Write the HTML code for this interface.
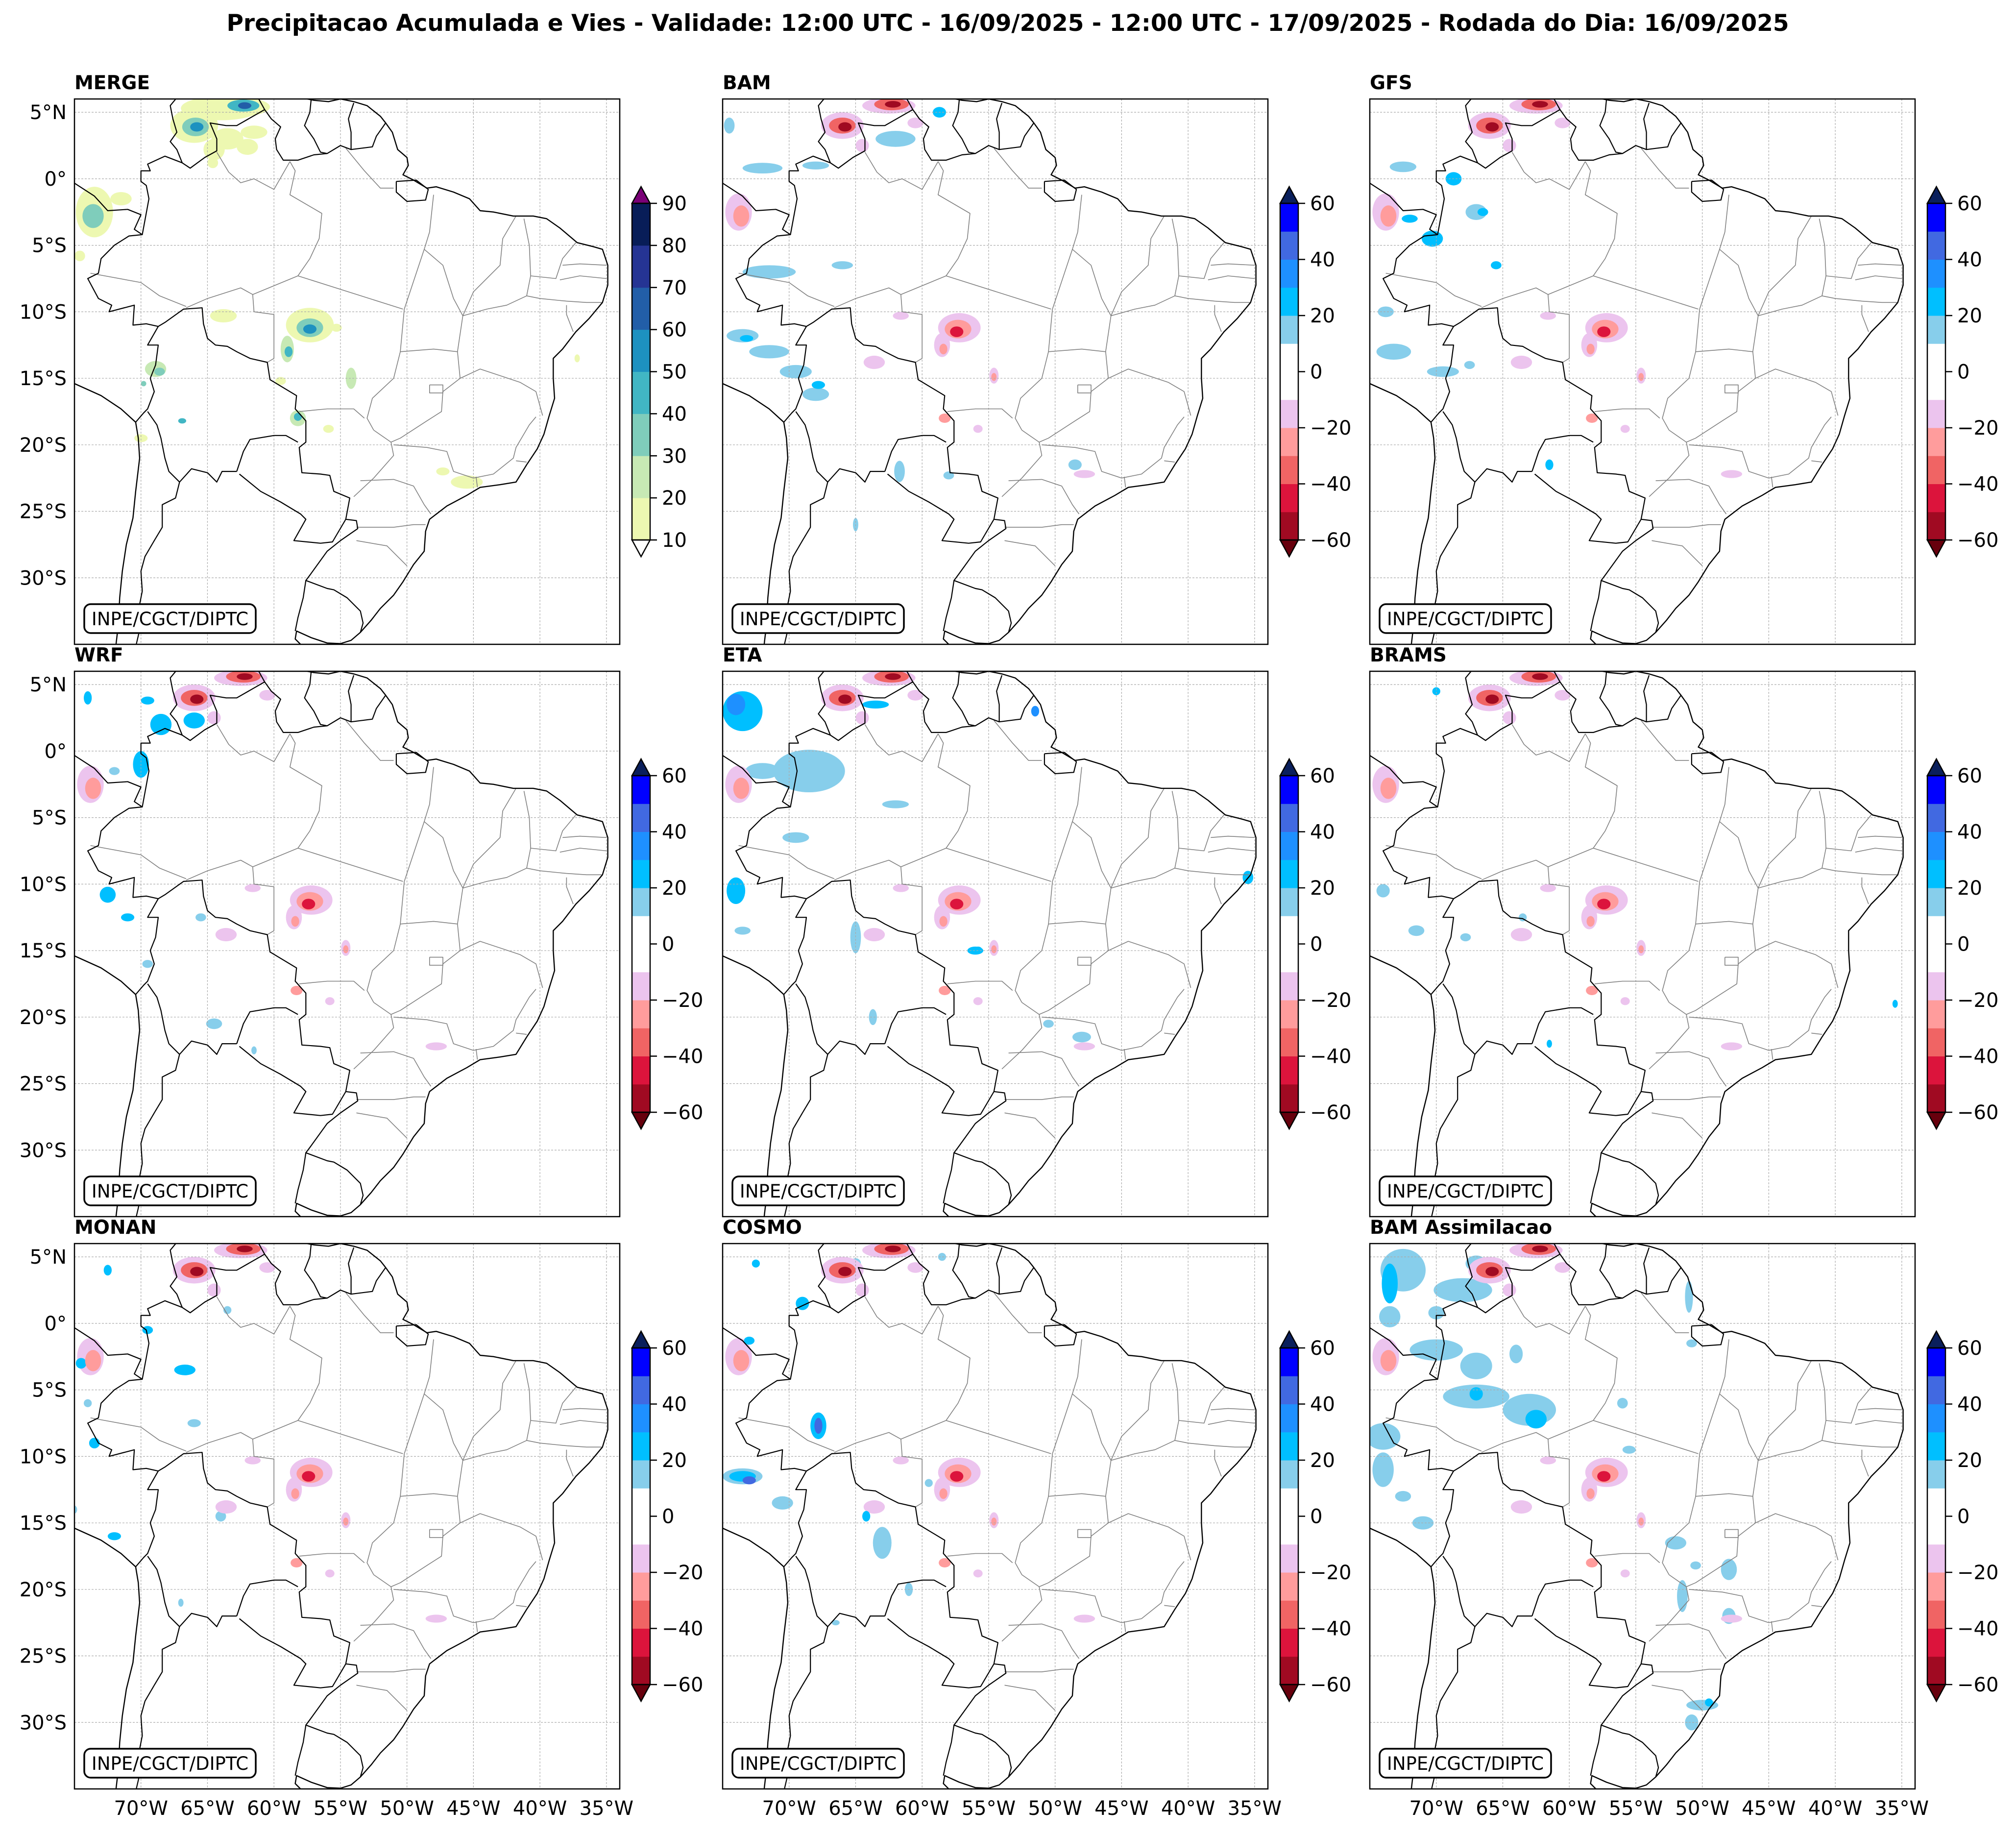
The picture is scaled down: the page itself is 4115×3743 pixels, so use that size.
<!DOCTYPE html>
<html><head><meta charset="utf-8">
<style>
html,body{margin:0;padding:0;background:#fff;}
svg{display:block;font-family:"DejaVu Sans","Liberation Sans",sans-serif;}
</style></head>
<body>
<svg id="fig" width="4115" height="3743" viewBox="0 0 4115 3743" xmlns="http://www.w3.org/2000/svg">
<rect x="0" y="0" width="4115" height="3743" fill="#fff"/>
<text x="2057" y="63" text-anchor="middle" font-size="47" font-weight="bold">Precipitacao Acumulada e Vies - Validade: 12:00 UTC - 16/09/2025 - 12:00 UTC - 17/09/2025 - Rodada do Dia: 16/09/2025</text>
<g id="panels"></g>
</svg>
<script>
// ---------- data ----------
const panelTitles = ["MERGE","BAM","GFS","WRF","ETA","BRAMS","MONAN","COSMO","BAM Assimilacao"];
const latTicks = [5,0,-5,-10,-15,-20,-25,-30];
const lonTicks = [-70,-65,-60,-55,-50,-45,-40,-35];
const mergeTicks = [10,20,30,40,50,60,70,80,90];
const biasTicks = [60,40,20,0,-20,-40,-60];
const mergeLevels = [10,20,30,40,50,60,70,80,90];
const mergeColors = ["#edf8b1","#c7e9b4","#7fcdbb","#41b6c4","#1d91c0","#225ea8","#253494","#081d58"];
const biasLevels = [-60,-50,-40,-30,-20,-10,0,10,20,30,40,50,60];
const biasColors = ["#a00a22","#dc143c","#f06464","#ff9c9c","#ecc4ee","#ffffff","#ffffff","#87ceeb","#00bfff","#1e90ff","#4169e1","#0000ff"];

// blobs: [lon, lat, rxDeg, ryDeg, value]
const mergeBlobs = [
[-64,5.3,3.0,0.9,15],[-63.5,3.0,1.2,0.8,15],[-62,2.4,0.8,0.6,15],
[-66,4,1.8,1.3,15],[-65.9,3.9,1.0,0.7,35],[-65.8,3.9,0.5,0.35,55],
[-62.5,5.4,2.2,0.7,15],[-62.3,5.5,1.2,0.45,40],[-62.2,5.5,0.5,0.25,60],
[-64.5,2.2,0.8,0.8,15],[-61.5,3.5,1.0,0.5,15],[-64.6,1.2,0.4,0.4,15],
[-73.5,-2.5,1.4,1.9,15],[-73.6,-2.8,0.8,0.9,35],[-74.6,-5.8,0.4,0.4,15],[-71.5,-1.5,0.8,0.5,15],
[-57.3,-11,1.8,1.3,15],[-57.3,-11.2,1.0,0.7,35],[-57.3,-11.3,0.5,0.35,55],[-55.3,-11.2,0.4,0.3,15],
[-59,-12.8,0.5,1.0,20],[-58.9,-13,0.3,0.4,45],[-63.8,-10.3,1.0,0.5,15],
[-68.9,-14.3,0.8,0.6,20],[-68.6,-14.5,0.4,0.3,30],[-69.8,-15.4,0.2,0.2,30],
[-58.2,-18,0.6,0.6,20],[-58.2,-17.9,0.3,0.3,45],[-55.9,-18.8,0.4,0.3,15],[-59.5,-15.2,0.4,0.3,15],
[-54.2,-15,0.4,0.8,20],[-66.9,-18.2,0.3,0.2,45],[-70,-19.5,0.5,0.3,15],
[-45.5,-22.8,1.2,0.5,15],[-47.3,-22,0.5,0.3,15],[-37.2,-13.5,0.2,0.3,15]
];
const commonNeg = [
[-66,4,1.6,1.0,-15],[-66,4,1.0,0.6,-35],[-65.8,3.9,0.5,0.35,-55],
[-62.5,5.5,2.0,0.6,-15],[-62.3,5.6,1.3,0.45,-35],[-62.2,5.6,0.6,0.25,-55],
[-64.5,2.5,0.5,0.5,-15],[-60.5,4.2,0.6,0.4,-15],
[-73.8,-2.5,1.0,1.4,-15],[-73.6,-2.8,0.6,0.8,-30],
[-57.2,-11.2,1.6,1.1,-15],[-57.3,-11.3,1.0,0.7,-30],[-57.4,-11.5,0.5,0.4,-45],
[-58.5,-12.5,0.6,0.9,-15],[-58.4,-12.8,0.3,0.4,-30],
[-63.6,-13.8,0.8,0.5,-15],[-61.6,-10.3,0.6,0.3,-15],[-54.6,-14.8,0.35,0.6,-15],[-54.6,-14.9,0.2,0.3,-25],
[-58.3,-18,0.45,0.35,-25],[-55.8,-18.8,0.35,0.3,-15],[-47.8,-22.2,0.8,0.3,-15]
];
const bamBlobs = [
[-73.5,-11.8,1.2,0.5,15],[-71.5,-13,1.5,0.5,15],[-69.5,-14.5,1.2,0.5,15],[-68,-16.2,1,0.5,15],[-67.8,-15.5,0.5,0.3,25],[-73.2,-12,0.5,0.25,25],
[-72,0.8,1.5,0.4,15],[-74.5,4,0.4,0.6,15],[-68,1,1,0.3,15],[-62,3,1.5,0.6,15],[-58.7,5,0.5,0.4,25],
[-71.5,-7,2,0.5,15],[-66,-6.5,0.8,0.3,15],[-61.7,-22,0.4,0.8,15],[-58,-22.3,0.4,0.3,15],[-48.5,-21.5,0.5,0.4,15],[-65,-26,0.2,0.5,15]
];
const gfsBlobs = [
[-72.5,0.9,1.0,0.4,15],[-68.7,0,0.6,0.5,20],[-67,-2.5,0.8,0.6,15],[-70.3,-4.5,0.8,0.6,25],[-72,-3,0.6,0.3,20],
[-73.8,-10,0.6,0.4,15],[-73.2,-13,1.3,0.6,15],[-69.5,-14.5,1.2,0.4,15],[-67.5,-14,0.4,0.3,15],[-65.5,-6.5,0.4,0.3,25],
[-61.5,-21.5,0.3,0.4,20],[-66.5,-2.5,0.4,0.3,25]
];
const wrfBlobs = [
[-74,4,0.3,0.5,25],[-69.5,3.8,0.5,0.3,25],[-68.5,2,0.8,0.8,25],[-66,2.3,0.8,0.6,25],[-70,-1,0.6,1,20],[-72,-1.5,0.4,0.3,15],
[-72.5,-10.8,0.6,0.6,20],[-71,-12.5,0.5,0.3,20],[-69.5,-16,0.4,0.3,15],[-64.5,-20.5,0.6,0.4,15],[-65.5,-12.5,0.4,0.3,15],[-61.5,-22.5,0.2,0.3,15]
];
const etaBlobs = [
[-68.5,-1.5,2.7,1.6,15],[-73.5,3,1.5,1.5,20],[-74,3.5,0.7,0.8,30],[-72,-1.5,1.3,0.6,15],[-69.5,-6.5,1.0,0.4,15],[-74,-10.5,0.7,1.0,20],
[-63.5,3.5,1,0.3,20],[-51.5,3,0.3,0.4,30],[-73.5,-13.5,0.6,0.3,15],[-65,-14,0.4,1.2,15],[-56,-15,0.6,0.3,20],[-63.7,-20,0.3,0.6,15],
[-50.5,-20.5,0.4,0.3,15],[-48,-21.5,0.7,0.4,15],[-35.5,-9.5,0.4,0.5,20],[-62,-4,1.0,0.3,15],[-55.8,-14.9,0.3,0.2,25]
];
const bramsBlobs = [
[-70,4.5,0.3,0.3,25],[-74,-10.5,0.5,0.5,15],[-71.5,-13.5,0.6,0.4,15],[-67.8,-14,0.4,0.3,15],[-63.5,-12.5,0.3,0.3,15],[-61.5,-22,0.2,0.3,25],[-35.5,-19,0.2,0.3,20]
];
const monanBlobs = [
[-72.5,4,0.3,0.4,25],[-66.7,-3.5,0.8,0.4,25],[-69.5,-0.5,0.4,0.3,20],[-74.5,-3,0.4,0.4,20],[-74,-6,0.3,0.3,15],[-73.5,-9,0.4,0.4,20],
[-75,-14,0.2,0.3,15],[-72,-16,0.5,0.3,20],[-64,-14.5,0.4,0.4,15],[-66,-7.5,0.5,0.3,15],[-63.5,1,0.3,0.3,15],[-67,-21,0.2,0.3,15]
];
const cosmoBlobs = [
[-67.8,-7.7,0.6,1.0,20],[-67.8,-7.7,0.3,0.6,40],[-67.7,-7.8,0.15,0.3,60],[-73.5,-11.5,1.5,0.6,15],[-73.5,-11.5,1.0,0.4,25],[-73,-11.8,0.5,0.3,40],
[-70.5,-13.5,0.8,0.5,15],[-72.5,4.5,0.3,0.3,20],[-69,1.5,0.5,0.5,20],[-65,4.5,0.4,0.4,15],[-58.5,5,0.3,0.3,15],[-63,-16.5,0.7,1.2,15],
[-64.2,-14.5,0.3,0.4,20],[-61,-20,0.3,0.5,15],[-59.5,-12,0.3,0.3,15],[-73,-1.3,0.4,0.3,20],[-66.5,-22.5,0.3,0.2,15]
];
const assimBlobs = [
[-72.5,4,1.7,1.6,15],[-73.5,3,0.6,1.5,25],[-67,4.5,0.8,0.6,15],[-68,2.5,2.2,0.9,15],[-73.5,0.5,0.8,0.8,15],[-70,0.8,0.6,0.5,15],
[-70,-2,2,0.8,15],[-67,-3.2,1.2,1.0,15],[-67,-5.5,2.5,0.9,15],[-63,-6.5,2,1.2,15],[-62.5,-7.2,0.8,0.7,25],[-67,-5.3,0.5,0.5,25],
[-74,-8.5,1.3,1.0,15],[-74,-11,0.8,1.3,15],[-72.5,-13,0.6,0.4,15],[-71,-15,0.8,0.5,15],[-51,2,0.3,1.2,15],[-50.8,-1.5,0.4,0.3,15],
[-64,-2.3,0.5,0.7,15],[-52,-16.5,0.8,0.5,15],[-48,-18.5,0.6,0.8,15],[-51.5,-20.5,0.4,1.2,15],[-48,-22,0.5,0.6,15],
[-50,-28.7,1.2,0.4,15],[-50.8,-30,0.5,0.6,15],[-49.5,-28.5,0.3,0.3,25],[-56,-6,0.4,0.4,15],[-55.5,-9.5,0.5,0.3,15],[-50.5,-18.2,0.4,0.3,15]
];
const panelBlobs = [mergeBlobs,bamBlobs,gfsBlobs,wrfBlobs,etaBlobs,bramsBlobs,monanBlobs,cosmoBlobs,assimBlobs];

// map geometry (lon, lat)
const coast = [[-57.5,6],[-57,5.9],[-55.9,5.8],[-55,6],[-54,5.8],[-53,5.5],[-52,4.7],[-51.6,4.2],[-51.1,3.5],[-50.7,2.2],[-50,1.6],[-49.9,1],[-50.3,0.3],[-49.5,-0.1],[-48.5,-0.7],[-47.8,-0.6],[-46.5,-1],[-45.3,-1.5],[-44.5,-2.4],[-43.5,-2.5],[-42,-2.8],[-40.5,-2.8],[-39.5,-3],[-38.5,-3.7],[-37.2,-4.8],[-36,-5.1],[-35.3,-5.3],[-34.9,-6.5],[-34.9,-8],[-35.3,-9.3],[-36.3,-10.5],[-37.3,-11.5],[-38.3,-12.8],[-39,-13.5],[-39,-15],[-38.9,-16.5],[-39.3,-17.8],[-39.7,-19.2],[-40.2,-20.3],[-41,-21.5],[-41.8,-22.8],[-43,-23],[-44.5,-23.2],[-45.5,-23.8],[-47,-24.6],[-48.3,-25.6],[-48.6,-26.5],[-48.7,-28],[-49.5,-29],[-50.3,-30.3],[-51,-31.3],[-52,-32.3],[-52.7,-33.2],[-53.5,-34.1],[-54.2,-34.7],[-55,-34.95],[-56,-34.9],[-57.2,-34.5],[-58.3,-34],[-58.4,-34.6],[-57.8,-35.2]];
const pacific = [[-75,-15.4],[-73,-16.3],[-71.5,-17.3],[-70.4,-18.3],[-70.2,-19.5],[-70.1,-21],[-70.4,-23.5],[-70.6,-25.5],[-71.1,-27.5],[-71.4,-29.5],[-71.6,-31.5],[-71.7,-33.5],[-71.9,-35.2]];
const marajo = [[-50.8,-0.2],[-49.3,-0.1],[-48.4,-0.8],[-48.6,-1.6],[-50,-1.7],[-50.8,-1],[-50.8,-0.2]];
const borders = [
[[-51.6,4.2],[-52.3,3.2],[-52.6,2.4],[-54.2,2.2],[-55,2.5],[-56,1.9],[-57,1.8],[-58.2,1.4],[-59.3,1.4],[-59.8,2.2],[-59.9,3],[-59.5,3.9],[-60.2,4.5],[-60.7,5.2],[-61.4,4.8],[-62.8,4],[-63.6,4],[-64.8,4.2],[-64.3,3],[-64.3,2.1],[-65.2,1.6],[-66.3,0.8],[-66.9,1.2],[-68.2,1.7],[-69.5,1.1],[-69.3,0.6],[-70,0.6],[-70,-0.2],[-69.6,-0.5],[-69.4,-1.5],[-69.9,-4.2],[-70.9,-4.3],[-72,-5],[-73,-6],[-73.2,-7.1],[-74,-7.5],[-73.2,-9],[-72.2,-9.5],[-72.4,-10],[-70.5,-9.5],[-70.6,-11],[-69.6,-10.9],[-68.7,-11.1],[-68.2,-10.8],[-66.8,-9.8],[-65.4,-9.7],[-65.3,-10.9],[-65,-12],[-64.4,-12.5],[-63.5,-12.6],[-62.8,-13],[-61.8,-13.5],[-60.5,-13.8],[-60.3,-15.1],[-58.3,-16.3],[-58.4,-17.3],[-57.6,-18.2],[-57.6,-19.8],[-58.1,-20.2],[-57.9,-22.1],[-56.5,-22.2],[-55.8,-22.3],[-55.5,-23.5],[-54.3,-24],[-54.6,-25.6],[-53.8,-25.7],[-53.7,-26.3],[-55,-27.2],[-56,-28],[-57.3,-29.8],[-57.6,-30.2],[-56,-30.8],[-55.5,-30.9],[-54.5,-31.5],[-53.5,-32.5],[-53.3,-33.4],[-53.5,-34.1]],
[[-57.2,6],[-57.3,5],[-57.7,4],[-57,3],[-56.5,2],[-56,1.9]],
[[-54,5.7],[-54.4,4.5],[-54.2,3.5],[-54.2,2.2]],
[[-60.7,5.2],[-61.2,6.1]],
[[-67.3,6.1],[-67.8,5.5],[-67.6,4.5],[-67.3,3.5],[-67.8,2.8],[-67.3,2.2],[-66.9,1.2]],
[[-75.2,-0.2],[-73.5,-1.3],[-72.5,-2.4],[-71,-2.3],[-70,-2.7],[-70.5,-3.8],[-69.9,-4.2]],
[[-68.7,-11.1],[-69.5,-12.5],[-68.7,-12.5],[-68.9,-14],[-69.3,-15],[-69,-16],[-69.5,-17.3],[-69.8,-17.6],[-70.4,-18.3]],
[[-69.5,-17.5],[-68.8,-18.5],[-68.5,-19.5],[-68.2,-21],[-67.9,-22],[-67.1,-22.8]],
[[-67.1,-22.8],[-66.2,-21.8],[-65,-22.1],[-64.3,-22.8],[-63.9,-22],[-62.8,-22]],
[[-62.8,-22],[-62.3,-20.5],[-61.8,-19.6],[-60,-19.3],[-59.1,-19.3],[-58.2,-19.8]],
[[-62.6,-22.2],[-61,-23.5],[-59.5,-24.3],[-58,-25.2],[-57.6,-25.6],[-58.5,-27.2],[-56.5,-27.4],[-55.6,-27.3],[-54.6,-25.6]],
[[-67.1,-22.8],[-67.4,-24],[-68.4,-24.5],[-68.4,-26.2],[-69,-27.2],[-69.7,-28.4],[-70,-29.5],[-69.9,-31],[-70.2,-32.5],[-70,-33.5],[-70.4,-35.2]],
[[-57.6,-30.2],[-57.8,-31.5],[-58.2,-33],[-58.4,-34]]
];
const states = [
[[-73.8,-7.1],[-70,-7.8],[-68.6,-8.8],[-66.6,-9.6]],
[[-66.6,-9.7],[-65,-9],[-62.5,-8.2],[-61.6,-8.7],[-61.5,-10]],
[[-61.5,-10],[-60,-10.2],[-60,-13.5],[-60.5,-13.8]],
[[-58.2,-7.3],[-50.3,-9.8]],
[[-61.6,-8.7],[-58.2,-7.3],[-57.3,-6],[-56.6,-4.5],[-56.4,-2.6],[-58.8,-1.2],[-58.4,0.6],[-58.8,1.3]],
[[-58.8,1.3],[-60,-0.8],[-61.5,0],[-62.5,-0.3],[-63.4,0.5],[-64.3,2]],
[[-54.6,2.3],[-53.2,0.6],[-52,-0.7],[-51,-0.7]],
[[-48,-1.2],[-48.3,-4],[-48.7,-5.3],[-50.2,-9.8]],
[[-48.7,-5.3],[-47.3,-6.5],[-46.5,-9],[-45.8,-10.3]],
[[-41.8,-2.8],[-42.8,-4.5],[-43,-6.5],[-45,-8.5],[-45.8,-10.3]],
[[-41.2,-3],[-40.8,-5],[-40.7,-7.3]],
[[-37.3,-4.8],[-38.3,-6],[-38.8,-7.5],[-40.7,-7.3]],
[[-35,-6.5],[-37,-6.4],[-38.3,-6.5]],
[[-35,-7.5],[-37,-7.3],[-38.5,-7.6]],
[[-35.3,-9.3],[-36.5,-9.3],[-38,-9.2],[-40,-9],[-41,-8.8],[-40.7,-7.3]],
[[-41,-8.8],[-42.5,-9.5],[-44,-9.8],[-45.8,-10.3]],
[[-37.5,-11.5],[-38,-10.2],[-38,-9.5]],
[[-50.5,-13],[-48,-12.8],[-46.2,-13],[-45.8,-10.3]],
[[-46.2,-13],[-46,-15],[-44.5,-14.3],[-41.5,-15.3],[-40.3,-16],[-39.8,-17.8]],
[[-50.2,-9.8],[-50.5,-13],[-51,-15],[-52.6,-16.5],[-53,-18],[-52.5,-18.9]],
[[-58.1,-17.5],[-56,-17.3],[-54,-17.3],[-53.2,-18]],
[[-52.5,-18.9],[-51.2,-19.8],[-51,-20.8],[-52.5,-22.5],[-54,-23.9]],
[[-46,-15],[-47.3,-16],[-47.4,-17.5],[-48.5,-18.2],[-50.5,-19.5],[-51.2,-19.8]],
[[-48.3,-15.5],[-47.3,-15.5],[-47.3,-16.1],[-48.3,-16.1],[-48.3,-15.5]],
[[-51,-20],[-48.5,-20.2],[-47,-20.5],[-46.5,-22],[-45,-22.5],[-43.5,-22.2],[-42,-21],[-41.8,-20.2],[-40.8,-18.5],[-40.3,-17.9]],
[[-41.8,-21.2],[-41,-21.3]],
[[-53.5,-22.7],[-51,-22.6],[-49.5,-23.1],[-48.7,-24.5],[-48.2,-25.2]],
[[-44.8,-22.4],[-44.7,-23.2]],
[[-53.8,-26.2],[-51,-26.2],[-49.5,-26],[-48.6,-26]],
[[-53.8,-27.2],[-51.5,-27.6],[-50,-29.1]]
];

// ---------- layout ----------
const NS = "http://www.w3.org/2000/svg";
const colX = [152,1475,2796], rowY = [202,1370,2538], S = 1113;
const LON0 = -75, LON1 = -34, LAT0 = 6, LAT1 = -35;
function mk(tag, attrs, parent){const e=document.createElementNS(NS,tag);for(const k in attrs)e.setAttribute(k,attrs[k]);if(parent)parent.appendChild(e);return e;}
function colorFor(v, levels, colors){for(let i=0;i<colors.length;i++){if(v>=levels[i]&&v<levels[i+1])return colors[i];}return null;}
function fmt(v){return v<0?"\u2212"+(-v):String(v);}

const root = document.getElementById("panels");
const defs = mk("defs",{},root);

for(let p=0;p<9;p++){
  const c=p%3, r=Math.floor(p/3), px=colX[c], py=rowY[r];
  const xs = lon => px+(lon-LON0)/(LON1-LON0)*S;
  const ys = lat => py+(LAT0-lat)/(LAT0-LAT1)*S;
  const g = mk("g",{},root);
  
  
  const cp = mk("clipPath",{id:"clip"+p},defs);
  mk("rect",{x:px,y:py,width:S,height:S},cp);
  const inner = mk("g",{"clip-path":"url(#clip"+p+")"},g);
  const isMerge = p===0;
  const blobs = (isMerge?mergeBlobs:panelBlobs[p].concat(commonNeg)).slice().sort((a,b)=>Math.abs(a[4])-Math.abs(b[4]));
  const sh = mk("g",{},inner);
  
  
  blobs.forEach(b=>{
    const col = isMerge?colorFor(b[4],mergeLevels,mergeColors):colorFor(b[4],biasLevels,biasColors);
    if(!col||col==="#ffffff")return;
    const e = mk("ellipse",{cx:xs(b[0]),cy:ys(b[1]),rx:b[2]*S/41,ry:b[3]*S/41,fill:col},sh);
    
    
  });
  lonTicks.forEach(l=>{mk("line",{x1:xs(l),x2:xs(l),y1:py,y2:py+S,stroke:"#aaa","stroke-width":1.2,"stroke-dasharray":"4,3"},inner);});
  latTicks.forEach(l=>{mk("line",{x1:px,x2:px+S,y1:ys(l),y2:ys(l),stroke:"#aaa","stroke-width":1.2,"stroke-dasharray":"4,3"},inner);});
  const pl = (pts,stroke,w)=>mk("polyline",{points:pts.map(q=>xs(q[0]).toFixed(1)+","+ys(q[1]).toFixed(1)).join(" "),fill:"none",stroke:stroke,"stroke-width":w,"stroke-linejoin":"round"},inner);
  states.forEach(s=>pl(s,"#808080",1.6));
  borders.forEach(s=>pl(s,"#000",2.2));
  pl(coast,"#000",2.4); pl(pacific,"#000",2.4); pl(marajo,"#000",2.2);
  mk("rect",{x:px,y:py,width:S,height:S,fill:"none",stroke:"#000","stroke-width":2.5},g);
  const t = mk("text",{x:px,y:py-20,"font-size":39,"font-weight":"bold"},g);
  t.textContent = panelTitles[p];
  
  
  const cb = mk("g",{},g);
  
  
  mk("rect",{x:px+20,y:py+1031,width:350,height:59,rx:13,fill:"#fff",stroke:"#000","stroke-width":3.5},cb);
  const ct = mk("text",{x:px+195,y:py+1074,"text-anchor":"middle","font-size":37},cb);
  ct.textContent = "INPE/CGCT/DIPTC";
  if(c===0){
    latTicks.forEach(l=>{
      const lt = mk("text",{x:px-16,y:ys(l)+14,"text-anchor":"end","font-size":40},g);
      lt.textContent = l>0?l+"°N":(l===0?"0°":(-l)+"°S");
      
      
    });
  }
  if(r===2){
    lonTicks.forEach(l=>{
      const lt = mk("text",{x:xs(l),y:py+S+53,"text-anchor":"middle","font-size":40},g);
      lt.textContent = (-l)+"°W";
      
      
    });
  }
  const cx0 = px+S+25, cw = 37, cy0 = py+213, ch = 687, tri = 34;
  const cbg = mk("g",{},g);
  
  
  const lv = isMerge?mergeLevels:biasLevels, cl = isMerge?mergeColors:biasColors;
  const vmin = lv[0], vmax = lv[lv.length-1];
  const cy = v => cy0+(vmax-v)/(vmax-vmin)*ch;
  for(let i=0;i<cl.length;i++){
    mk("rect",{x:cx0,y:cy(lv[i+1]),width:cw,height:cy(lv[i])-cy(lv[i+1])+0.5,fill:cl[i]},cbg);
  }
  const topCol = isMerge?"#7a0177":"#0a1f5c", botCol = isMerge?"#ffffff":"#67000d";
  mk("polygon",{points:`${cx0},${cy0} ${cx0+cw},${cy0} ${cx0+cw/2},${cy0-tri}`,fill:topCol,stroke:"#000","stroke-width":2.5},cbg);
  mk("polygon",{points:`${cx0},${cy0+ch} ${cx0+cw},${cy0+ch} ${cx0+cw/2},${cy0+ch+tri}`,fill:botCol,stroke:"#000","stroke-width":2.5},cbg);
  mk("rect",{x:cx0,y:cy0,width:cw,height:ch,fill:"none",stroke:"#000","stroke-width":2.5},cbg);
  (isMerge?mergeTicks:biasTicks).forEach(v=>{
    const yy = cy(v);
    mk("line",{x1:cx0+cw,x2:cx0+cw+14,y1:yy,y2:yy,stroke:"#000","stroke-width":2.5},cbg);
    const tt = mk("text",{x:cx0+cw+24,y:yy+14,"font-size":40},cbg);
    tt.textContent = fmt(v);
    
    
  });
}
</script>
</body></html>
